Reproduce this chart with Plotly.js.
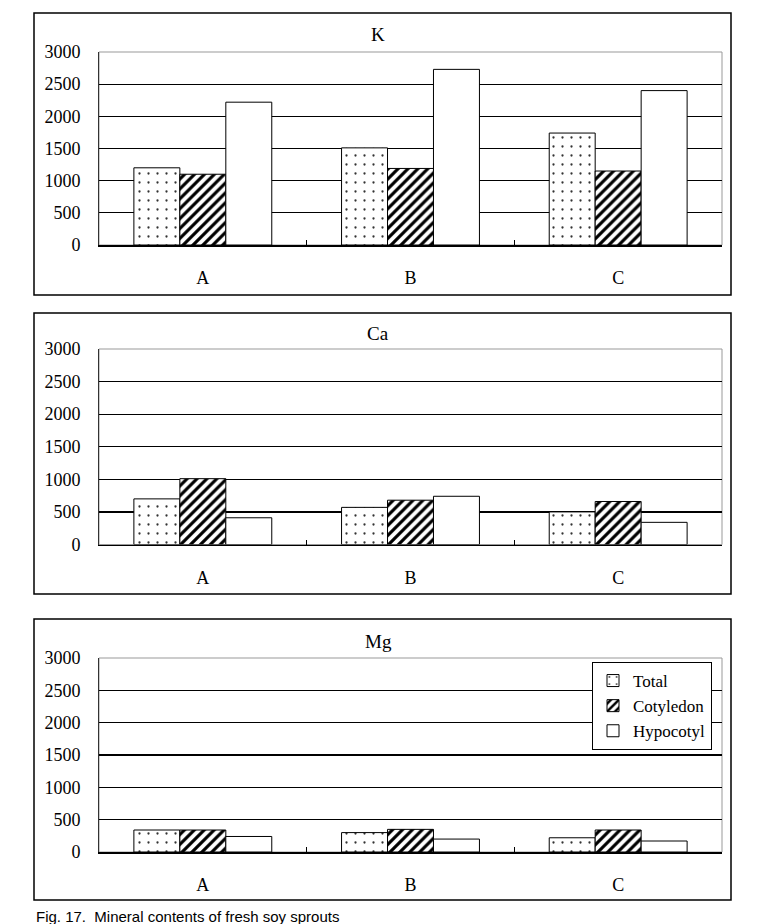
<!DOCTYPE html>
<html><head><meta charset="utf-8">
<script src="https://cdn.plot.ly/plotly-3.0.1.min.js"></script>
<style>html,body{margin:0;padding:0;background:#fff;overflow:hidden}</style>
</head><body><div id="chart" style="width:765px;height:924px"></div>
<script>
const categories = ['A','B','C'];
const seriesNames = ['Total','Cotyledon','Hypocotyl'];
const panelTitles = ['K','Ca','Mg'];
const K_total = [1200,1510,1740];
const K_cot = [1100,1190,1150];
const K_hyp = [2220,2730,2400];
const Ca_total = [700,570,500];
const Ca_cot = [1010,680,660];
const Ca_hyp = [410,740,340];
const Mg_total = [340,300,220];
const Mg_cot = [340,350,340];
const Mg_hyp = [240,200,170];
const yTicks = [0,500,1000,1500,2000,2500,3000];

const W=765,H=924;
const px=x=>x/W, py=y=>1-y/H;
const serif='"Liberation Serif", "Times New Roman", serif';

const panels=[
 {vals:[K_total,K_cot,K_hyp], top:52, bot:245, box:[34,13,731,295], ty:35},
 {vals:[Ca_total,Ca_cot,Ca_hyp], top:349, bot:544.5, box:[34,313,731,594], ty:333},
 {vals:[Mg_total,Mg_cot,Mg_hyp], top:658, bot:852, box:[34,619,731,900], ty:641}
];
const patterns=[
 {shape:'.', fgcolor:'#333', bgcolor:'#fff', size:9, solidity:0.05, fillmode:'replace'},
 {shape:'/', fgcolor:'#000', bgcolor:'#fff', size:7, solidity:0.45, fillmode:'replace'},
 null
];
const traces=[];const shapes=[];const annotations=[];
const layout={width:W,height:H,margin:{l:0,r:0,t:0,b:0},paper_bgcolor:'#fff',plot_bgcolor:'#fff',
 barmode:'group',bargap:0.336,bargroupgap:0,font:{family:serif,color:'#000',size:18},
 showlegend:true,
 legend:{x:px(712),xanchor:'right',y:py(662),yanchor:'top',bordercolor:'#000',borderwidth:1,bgcolor:'#fff',
   font:{family:serif,size:17},itemwidth:30,tracegroupgap:0}};
panels.forEach((p,i)=>{
 const xa='x'+(i?i+1:''), ya='y'+(i?i+1:'');
 const xk='xaxis'+(i?i+1:''), yk='yaxis'+(i?i+1:'');
 p.vals.forEach((v,j)=>{
   const m={color:'#fff',line:{color:'#000',width:1}};
   if(patterns[j]) m.pattern=patterns[j];
   traces.push({type:'bar',x:categories,y:v,name:seriesNames[j],xaxis:xa,yaxis:ya,marker:m,
     showlegend:i===2,hoverinfo:'skip'});
 });
 layout[xk]={domain:[px(99),px(722)],anchor:ya,type:'category',showgrid:false,zeroline:false,
   showline:true,linecolor:'#000',linewidth:1.5,ticks:'inside',tickson:'boundaries',ticklen:5,tickcolor:'#000',
   ticklabelstandoff:16,tickfont:{family:serif,size:18},fixedrange:true};
 layout[yk]={domain:[py(p.bot),py(p.top)],anchor:xa,range:[0,3000],tickvals:yTicks,ticktext:yTicks.map(String),
   showgrid:true,gridcolor:'#000',gridwidth:1.3,zeroline:false,showline:true,linecolor:'#333',linewidth:1,
   ticks:'',ticklabelstandoff:14,tickfont:{family:serif,size:18},fixedrange:true};
 shapes.push({type:'rect',xref:'paper',yref:'paper',x0:px(p.box[0]),x1:px(p.box[2]),y0:py(p.box[3]),y1:py(p.box[1]),
   line:{color:'#000',width:1.5},fillcolor:'rgba(0,0,0,0)',layer:'below'});
 shapes.push({type:'rect',xref:xa+' domain',yref:ya+' domain',x0:0,x1:1,y0:0,y1:1,line:{color:'#999',width:1},layer:'below'});
 annotations.push({xref:'paper',yref:'paper',x:px(378),y:py(p.ty),text:panelTitles[i],showarrow:false,
   xanchor:'center',yanchor:'middle',font:{family:serif,size:19}});
});
annotations.push({xref:'paper',yref:'paper',x:px(34),y:py(906),xanchor:'left',yanchor:'top',showarrow:false,
 text:'Fig. 17.  Mineral contents of fresh soy sprouts',font:{family:'"Liberation Sans", Arial, sans-serif',size:15}});
layout.shapes=shapes;layout.annotations=annotations;
Plotly.newPlot('chart',traces,layout,{staticPlot:true,displayModeBar:false});
</script></body></html>
